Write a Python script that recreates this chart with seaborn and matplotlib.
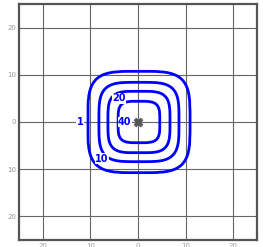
import numpy as np
import matplotlib
matplotlib.use("Agg")
import matplotlib.pyplot as plt
import seaborn as sns

# ---- data ----
levels = [1, 10, 20, 40]                 # contour levels (outer -> inner)
half_sizes = [10.7, 8.4, 6.5, 4.4]       # half width of each contour ring
label_x = [-12.2, -7.6, -4.0, -2.8]      # where each level's label sits
label_y = [0.0, -7.8, 5.0, 0.0]
tick_values = [-20, -10, 0, 10, 20]
tick_labels = ["20", "10", "0", "10", "20"]
center = [0.2, 0.0]

sns.set_style("white")
plt.rcParams['font.family'] = ['DejaVu Sans']

fig = plt.figure(figsize=(2.63, 2.47), dpi=100)
ax = fig.add_axes([19 / 263, 7 / 247, 238 / 263, 236 / 247])

# build field: level as a function of superellipse radius
gx = np.linspace(-25, 25, 401)
gy = np.linspace(-25, 25, 401)
X, Y = np.meshgrid(gx, gy)
R = (np.abs(X - center[0]) ** 4 + np.abs(Y - center[1]) ** 4) ** 0.25
rr = [0.0] + half_sizes[::-1] + [40.0]
vv = [60.0] + levels[::-1] + [-30.0]
Z = np.interp(R, rr, vv)

for v in tick_values:
    ax.axvline(v, color="#666666", lw=0.8, zorder=1)
    ax.axhline(v, color="#666666", lw=0.8, zorder=1)

cs = ax.contour(X, Y, Z, levels=sorted(levels), colors="#0000ff",
                linewidths=2.0, zorder=3)
for lv, lx, ly in zip(levels, label_x, label_y):
    ax.text(lx, ly, str(lv), color="#0000ff", fontsize=7, fontweight="bold",
            ha="center", va="center", zorder=5,
            bbox=dict(facecolor="white", edgecolor="none", pad=0.3))

sns.scatterplot(x=[0.0], y=[0.0], marker="X", s=40,
                color="#555555", edgecolor="#555555", ax=ax, zorder=6)

ax.set_xlim(-25, 25)
ax.set_ylim(-25, 25)
ax.set_xticks(tick_values)
ax.set_xticklabels(tick_labels)
ax.set_yticks(tick_values)
ax.set_yticklabels(tick_labels)
ax.tick_params(axis="both", length=0, labelsize=5, colors="#999999", pad=2)
ax.set_xlabel("")
ax.set_ylabel("")
for s in ax.spines.values():
    s.set_visible(True)
    s.set_color("#555555")
    s.set_linewidth(1.6)

fig.savefig("out.png", dpi=100)
